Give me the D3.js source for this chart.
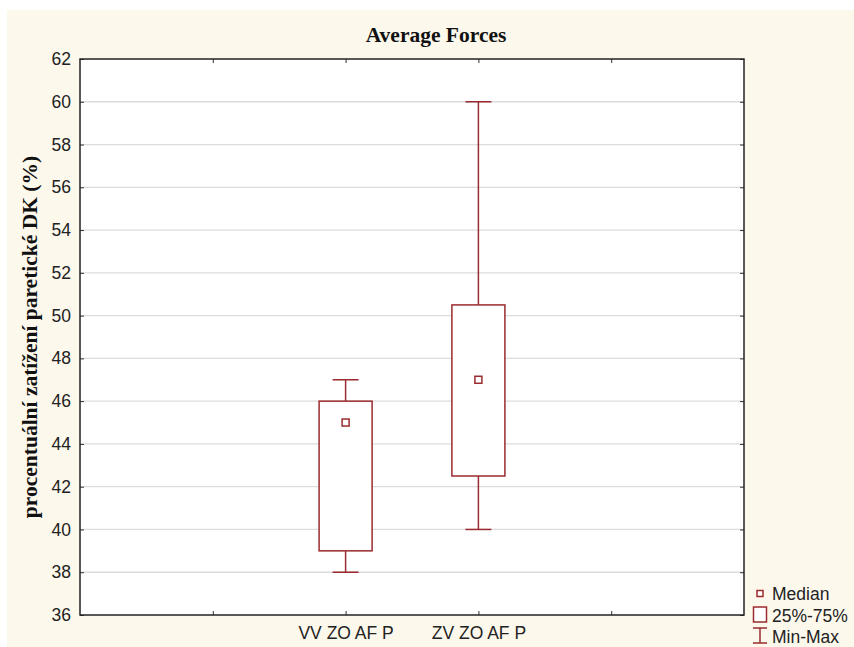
<!DOCTYPE html>
<html>
<head>
<meta charset="utf-8">
<script src="https://cdn.jsdelivr.net/npm/d3@7"></script>
<style>
  html, body { margin: 0; padding: 0; background: #ffffff; }
  svg { display: block; }
</style>
</head>
<body>
<svg id="chart" width="854" height="647"></svg>
<script>
// Group labels and their five-number summaries
const categories = ["VV ZO AF P", "ZV ZO AF P"];
const minValues    = [38, 40];
const q1Values     = [39, 42.5];
const medianValues = [45, 47];
const q3Values     = [46, 50.5];
const maxValues    = [47, 60];
const yTicks = [36, 38, 40, 42, 44, 46, 48, 50, 52, 54, 56, 58, 60, 62];
const legendLabels = ["Median", "25%-75%", "Min-Max"];

const W = 854, H = 647;
const margin = { left: 80, right: 110, top: 59, bottom: 32 };
const plotW = W - margin.left - margin.right;
const plotH = H - margin.top - margin.bottom;
const markColor = "#9a2b2e";
const sansFont = "'Liberation Sans', Arial, sans-serif";
const serifFont = "'Liberation Serif', 'Times New Roman', serif";

const svg = d3.select("#chart");

// cream page panel
svg.append("rect").attr("x", 7).attr("y", 10).attr("width", W - 7).attr("height", H - 10)
  .attr("fill", "#fdf8ec");

const g = svg.append("g").attr("transform", `translate(${margin.left},${margin.top})`);

// categories sit at slots 2 and 3 of a 0..5 axis
const x = d3.scaleLinear().domain([0, 5]).range([0, plotW]);
const catPos = categories.map((c, i) => i + 2);
const y = d3.scaleLinear().domain([36, 62]).range([plotH, 0]);

g.append("rect").attr("width", plotW).attr("height", plotH).attr("fill", "#ffffff");

// horizontal grid
g.append("g").selectAll("line").data(yTicks.slice(1, -1)).join("line")
  .attr("x1", 0).attr("x2", plotW)
  .attr("y1", d => y(d)).attr("y2", d => y(d))
  .attr("stroke", "#dcdcdc").attr("stroke-width", 1.3);

// axes
const yAxis = d3.axisLeft(y).tickValues(yTicks).tickSize(-4).tickPadding(9);
const yAxisG = g.append("g").call(yAxis);
yAxisG.select(".domain").remove();
yAxisG.selectAll("line").attr("stroke", "#333");
yAxisG.selectAll("text").attr("font-family", sansFont).attr("font-size", 17.5).attr("fill", "#222");

const yAxisR = d3.axisRight(y).tickValues(yTicks).tickSize(-4).tickFormat("");
const yAxisRG = g.append("g").attr("transform", `translate(${plotW},0)`).call(yAxisR);
yAxisRG.select(".domain").remove();
yAxisRG.selectAll("line").attr("stroke", "#333");

const xTicks = [1, 2, 3, 4];
const xAxis = d3.axisBottom(x).tickValues(xTicks).tickSize(-4).tickPadding(12)
  .tickFormat(d => { const i = catPos.indexOf(d); return i >= 0 ? categories[i] : ""; });
const xAxisG = g.append("g").attr("transform", `translate(0,${plotH})`).call(xAxis);
xAxisG.select(".domain").remove();
xAxisG.selectAll("line").attr("stroke", "#333");
xAxisG.selectAll("text").attr("font-family", sansFont).attr("font-size", 17.5).attr("fill", "#222");

const xAxisT = d3.axisTop(x).tickValues(xTicks).tickSize(-4).tickFormat("");
const xAxisTG = g.append("g").call(xAxisT);
xAxisTG.select(".domain").remove();
xAxisTG.selectAll("line").attr("stroke", "#333");

// plot frame
g.append("rect").attr("width", plotW).attr("height", plotH)
  .attr("fill", "none").attr("stroke", "#222").attr("stroke-width", 1.5);

// box plots
const boxW = 53, capW = 26, medS = 7;
const boxes = g.append("g").selectAll("g").data(categories.map((c, i) => i)).join("g");

boxes.append("line")
  .attr("x1", i => x(catPos[i])).attr("x2", i => x(catPos[i]))
  .attr("y1", i => y(maxValues[i])).attr("y2", i => y(q3Values[i]))
  .attr("stroke", markColor).attr("stroke-width", 1.5);
boxes.append("line")
  .attr("x1", i => x(catPos[i])).attr("x2", i => x(catPos[i]))
  .attr("y1", i => y(q1Values[i])).attr("y2", i => y(minValues[i]))
  .attr("stroke", markColor).attr("stroke-width", 1.5);
boxes.append("line")
  .attr("x1", i => x(catPos[i]) - capW / 2).attr("x2", i => x(catPos[i]) + capW / 2)
  .attr("y1", i => y(maxValues[i])).attr("y2", i => y(maxValues[i]))
  .attr("stroke", markColor).attr("stroke-width", 1.5);
boxes.append("line")
  .attr("x1", i => x(catPos[i]) - capW / 2).attr("x2", i => x(catPos[i]) + capW / 2)
  .attr("y1", i => y(minValues[i])).attr("y2", i => y(minValues[i]))
  .attr("stroke", markColor).attr("stroke-width", 1.5);
boxes.append("rect")
  .attr("x", i => x(catPos[i]) - boxW / 2).attr("width", boxW)
  .attr("y", i => y(q3Values[i])).attr("height", i => y(q1Values[i]) - y(q3Values[i]))
  .attr("fill", "#ffffff").attr("stroke", markColor).attr("stroke-width", 1.5);
boxes.append("rect")
  .attr("x", i => x(catPos[i]) - medS / 2).attr("width", medS)
  .attr("y", i => y(medianValues[i]) - medS / 2).attr("height", medS)
  .attr("fill", "#ffffff").attr("stroke", markColor).attr("stroke-width", 1.5);

// title
svg.append("text").attr("x", 436).attr("y", 42)
  .attr("text-anchor", "middle").attr("font-family", serifFont).attr("font-weight", "bold")
  .attr("font-size", 21.5).attr("fill", "#111").text("Average Forces");

// y axis title
svg.append("text")
  .attr("transform", `translate(37,${margin.top + plotH / 2}) rotate(-90)`)
  .attr("text-anchor", "middle").attr("font-family", serifFont).attr("font-weight", "bold")
  .attr("font-size", 21.5).attr("fill", "#111")
  .text("procentuální zatížení paretické DK (%)");

// legend
const lg = svg.append("g").attr("transform", "translate(752,585)");
lg.append("rect").attr("x", 5).attr("y", 5.5).attr("width", 6).attr("height", 6)
  .attr("fill", "#fff").attr("stroke", markColor).attr("stroke-width", 1.5);
lg.append("rect").attr("x", 1.5).attr("y", 22).attr("width", 13).attr("height", 15)
  .attr("fill", "#fff").attr("stroke", markColor).attr("stroke-width", 1.5);
lg.append("line").attr("x1", 8).attr("x2", 8).attr("y1", 43).attr("y2", 58)
  .attr("stroke", markColor).attr("stroke-width", 1.5);
lg.append("line").attr("x1", 1).attr("x2", 15).attr("y1", 43).attr("y2", 43)
  .attr("stroke", markColor).attr("stroke-width", 1.5);
lg.append("line").attr("x1", 1).attr("x2", 15).attr("y1", 58).attr("y2", 58)
  .attr("stroke", markColor).attr("stroke-width", 1.5);
lg.selectAll("text.lab").data(legendLabels).join("text").attr("class", "lab")
  .attr("x", 20).attr("y", (d, i) => 15 + i * 21.5)
  .attr("font-family", sansFont).attr("font-size", 17.5).attr("fill", "#222")
  .text(d => d);
</script>
</body>
</html>
